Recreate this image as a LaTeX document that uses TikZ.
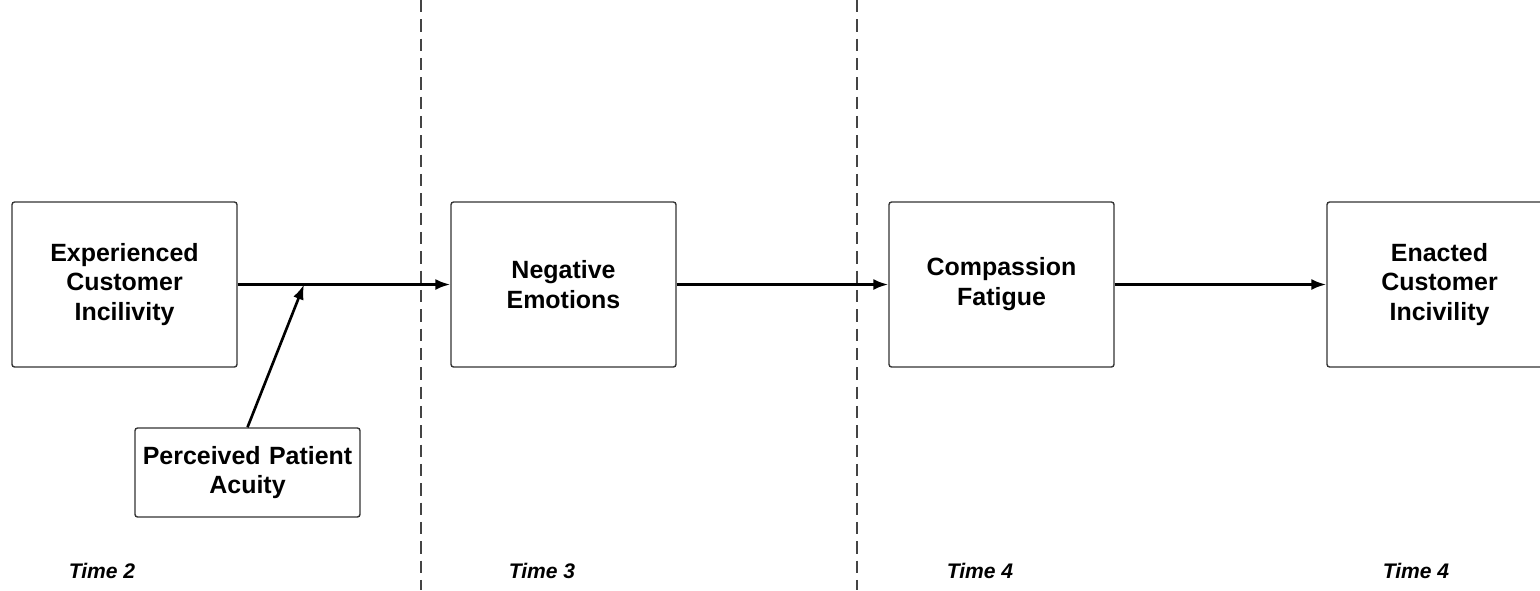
\documentclass[tikz,border=0pt]{standalone}
\usepackage{fontspec}
\setmainfont{Liberation Sans}
\usepackage{tikz}
\usetikzlibrary{arrows.meta,positioning}
\usepackage{xcolor}
\definecolor{boxline}{HTML}{333333}
\definecolor{sepline}{HTML}{444444}

\begin{document}
\begin{tikzpicture}[
 every node/.style={font=\bfseries\fontsize{14.2}{17}\selectfont},
 construct/.style={draw=boxline,line width=0.8pt,rounded corners=1.5pt,align=center,minimum width=4.5cm,minimum height=3.3cm,text width=4.2cm},
 moderator/.style={draw=boxline,line width=0.8pt,rounded corners=1.5pt,align=center,minimum width=4.5cm,minimum height=1.78cm,text width=4.3cm,inner sep=1pt},
 timelabel/.style={font=\bfseries\itshape\fontsize{12}{14}\selectfont},
 path/.style={-{Latex[length=3mm,width=2.2mm]},line width=1.5pt},
 divider/.style={draw=sepline,line width=0.6pt,dash pattern=on 7pt off 4pt}
]
\useasboundingbox (0,0) rectangle (30.8,-11.8);
\draw[divider] (8.42,0) -- (8.42,-11.8);
\draw[divider] (17.14,0) -- (17.14,-11.8);

\node[construct] (eci) at (2.49,-5.69) {Experienced\\Customer\\Incilivity};
\node[construct] (ne) at (11.27,-5.69) {Negative\\Emotions};
\node[construct] (cf) at (20.03,-5.69) {Compassion\\Fatigue};
\node[construct] (enc) at (28.79,-5.69) {Enacted\\Customer\\Incivility};
\node[moderator] (ppa) at (4.95,-9.45) {Perceived Patient\\Acuity};
\coordinate (mod) at (6.08,-5.69);

\draw[path] (eci)--(ne); \draw[path] (ne)--(cf); \draw[path] (cf)--(enc);
\draw[path] (ppa.north)--(mod);

\node[timelabel] (t2) at (2.04,-11.42) {Time 2};
\node[timelabel] (t3) at (10.84,-11.42) {Time 3};
\node[timelabel] (t4a) at (19.6,-11.42) {Time 4};
\node[timelabel] (t4b) at (28.32,-11.42) {Time 4};
\end{tikzpicture}
\end{document}
